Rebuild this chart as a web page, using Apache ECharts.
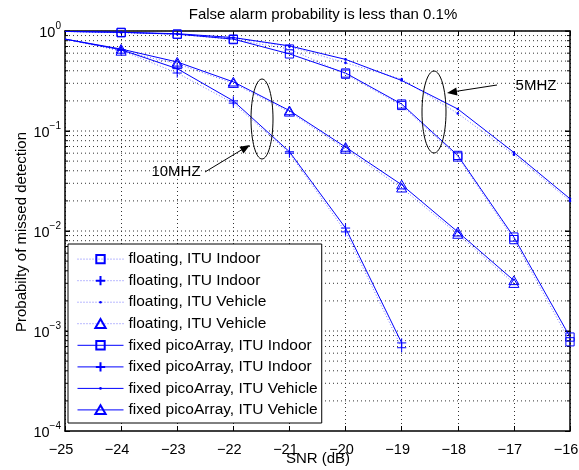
<!DOCTYPE html>
<html><head><meta charset="utf-8">
<script src="https://cdn.jsdelivr.net/npm/echarts@6/dist/echarts.min.js"></script>
<style>html,body{margin:0;padding:0;background:#fff}#c{width:579px;height:470px}</style>
</head><body><div id="c"></div>
<script>
const snr = [-25,-24,-23,-22,-21,-20,-19,-18,-17,-16];
// 5MHz, ITU Indoor (squares)
const floatIndoor5  = [0.99,0.96,0.93,0.82,0.66,0.37,0.18,0.055,0.0082,0.00078];
const fixedIndoor5  = [0.99,0.97,0.93,0.83,0.59,0.38,0.186,0.057,0.0087,0.00087];
// 10MHz, ITU Indoor (plus)
const floatIndoor10 = [0.83,0.64,0.38,0.19,0.06,0.0098,0.00068,null,null,null];
const fixedIndoor10 = [0.83,0.65,0.42,0.20,0.062,0.0107,0.00076,null,null,null];
// 5MHz, ITU Vehicle (dots)
const floatVeh5     = [0.99,0.97,0.93,0.85,0.70,0.48,0.33,0.15,0.058,0.020];
const fixedVeh5     = [0.99,0.97,0.94,0.86,0.71,0.52,0.32,0.166,0.061,0.021];
// 10MHz, ITU Vehicle (triangles)
const floatVeh10    = [0.83,0.63,0.47,0.30,0.155,0.066,0.027,0.0093,0.0030,null];
const fixedVeh10    = [0.83,0.66,0.49,0.31,0.16,0.069,0.029,0.0098,0.0032,null];
const legendNames = [
  'floating, ITU Indoor#1','floating, ITU Indoor#2','floating, ITU Vehicle#1','floating, ITU Vehicle#2',
  'fixed picoArray, ITU Indoor#1','fixed picoArray, ITU Indoor#2','fixed picoArray, ITU Vehicle#1','fixed picoArray, ITU Vehicle#2'
];
const xTicks = [-25,-24,-23,-22,-21,-20,-19,-18,-17,-16];
const xTitle = 'SNR (dB)';
const yTitle = 'Probabilty of missed detection';

const BLUE = '#0000ff';
const FONT = 'Liberation Sans';
const SYM = {
  square:  'path://M0,0 M12,12 M1.5,1.5 L10.5,1.5 L10.5,10.5 L1.5,10.5 Z',
  plus:    'path://M0,0 M12,12 M6,1 L6,11 M1,6 L11,6',
  dot:     'path://M0,0 M12,12 M6,4.6 A1.4,1.4 0 1 1 6,7.4 A1.4,1.4 0 1 1 6,4.6 Z',
  triangle:'path://M0,0 M12,12 M6,1 L11.5,10.5 L0.5,10.5 Z'
};

function mk(arr){
  return snr.map((x,i)=>{
    if(arr[i]==null) return null;
    if(i===0) return {value:[x,arr[i]], symbol:'none'};
    return [x,arr[i]];
  });
}
function series(name, arr, floating, kind){
  const filled = kind==='dot';
  return {
    name, type:'line', data: mk(arr), symbol:SYM[kind], symbolSize:11,
    showAllSymbol:true, connectNulls:false, z:3, animation:false,
    lineStyle:{color:BLUE, width:1, type: floating?[1,2]:'solid', opacity: floating?0.55:1},
    itemStyle:{color: filled?BLUE:'none', borderColor:BLUE, borderWidth: filled?0:1},
    emphasis:{disabled:true}
  };
}
const gridVals = [];
for(let e=-4;e<0;e++){ for(let m=1;m<=9;m++){ if(m===1 && e===-4) continue; gridVals.push(m*Math.pow(10,e)); } }
gridVals.push(1);

const chart = echarts.init(document.getElementById('c'), null, {renderer:'canvas'});
const option = {
  animation:false,
  backgroundColor:'#fff',
  textStyle:{fontFamily:FONT},
  title:{text:'False alarm probability is less than 0.1%', left:318, top:2, textAlign:'center',
    textStyle:{fontFamily:FONT, fontSize:15, fontWeight:'normal', color:'#000'}},
  grid:{left:65, right:9, top:31, bottom:39, show:false, containLabel:false, outerBoundsMode:'none'},
  xAxis:[{
    type:'value', min:-25, max:-16, interval:1,
    axisLine:{lineStyle:{color:'#000', width:1.5}},
    axisTick:{inside:true, length:5, lineStyle:{color:'#000'}},
    axisLabel:{color:'#000', fontSize:14.5, fontFamily:FONT, margin:11, padding:[0,8,0,0],
      formatter:v=> xTicks.indexOf(v)>=0 ? String(v).replace('-','\u2212') : ''},
    splitLine:{show:true, lineStyle:{color:'#333', type:[1,3], width:1}}
  },{
    type:'value', min:-25, max:-16, interval:1, position:'top',
    axisLine:{lineStyle:{color:'#000', width:1.5}},
    axisTick:{inside:true, length:5, lineStyle:{color:'#000'}},
    axisLabel:{show:false}, splitLine:{show:false}
  }],
  yAxis:[{
    type:'log', logBase:10, min:1e-4, max:1, splitNumber:4,
    axisLine:{lineStyle:{color:'#000', width:1.5}},
    axisTick:{inside:true, length:5, lineStyle:{color:'#000'}},
    axisLabel:{color:'#000', margin:4, fontFamily:FONT,
      formatter:v=>{ const e=Math.round(Math.log10(v)); return '{b|10}{s|'+(e===0?'0':'\u2212'+(-e))+'}'; },
      rich:{b:{fontSize:14.5, fontFamily:FONT, color:'#000', verticalAlign:'bottom'},
            s:{fontSize:10, fontFamily:FONT, color:'#000', verticalAlign:'top', padding:[0,0,9,0]}}},
    splitLine:{show:false}
  },{
    type:'log', logBase:10, min:1e-4, max:1, splitNumber:4, position:'right',
    axisLine:{lineStyle:{color:'#000', width:1.5}},
    axisTick:{inside:true, length:5, lineStyle:{color:'#000'}},
    axisLabel:{show:false}, splitLine:{show:false}
  }],
  legend:{
    orient:'vertical', left:68, top:244, padding:[7,4,5,9],
    itemWidth:46, itemHeight:14, itemGap:5.4,
    backgroundColor:'#fff', borderColor:'#000', borderWidth:1, borderRadius:0,
    lineStyle:{width:1},
    textStyle:{fontFamily:FONT, fontSize:15.5, color:'#000'},
    formatter:n=>n.split('#')[0],
    data: legendNames, z:10
  },
  series:[
    {type:'custom', xAxisIndex:0, yAxisIndex:0, silent:true, z:1, animation:false,
     data: gridVals.map(v=>[v]),
     renderItem:(params, api)=>{
       const v = api.value(0);
       const p0 = api.coord([-25, v]), p1 = api.coord([-16, v]);
       const major = Math.abs(Math.log10(v) - Math.round(Math.log10(v))) < 1e-9;
       const tl = major?5:3;
       return {type:'group', children:[
         {type:'line', shape:{x1:p0[0], y1:p0[1], x2:p1[0], y2:p1[1]}, style:{stroke:'#333', lineWidth:1, lineDash:[1,3]}},
         {type:'line', shape:{x1:p0[0], y1:p0[1], x2:p0[0]+tl, y2:p0[1]}, style:{stroke:'#000', lineWidth:1}},
         {type:'line', shape:{x1:p1[0], y1:p1[1], x2:p1[0]-tl, y2:p1[1]}, style:{stroke:'#000', lineWidth:1}}
       ]};
     }},
    series(legendNames[0], floatIndoor5, true, 'square'),
    series(legendNames[1], floatIndoor10, true, 'plus'),
    series(legendNames[2], floatVeh5, true, 'dot'),
    series(legendNames[3], floatVeh10, true, 'triangle'),
    series(legendNames[4], fixedIndoor5, false, 'square'),
    series(legendNames[5], fixedIndoor10, false, 'plus'),
    series(legendNames[6], fixedVeh5, false, 'dot'),
    series(legendNames[7], fixedVeh10, false, 'triangle')
  ],
  graphic:[
    {type:'text', x:318, y:459, style:{text:xTitle, font:'15px "Liberation Sans"', fill:'#000', align:'center', verticalAlign:'middle'}, z:20},
    {type:'text', x:22, y:232, rotation:Math.PI/2, style:{text:yTitle, font:'15px "Liberation Sans"', fill:'#000', align:'center', verticalAlign:'middle'}, z:20},
    {type:'ellipse', shape:{cx:262, cy:119, rx:11, ry:40}, style:{fill:'none', stroke:'#000', lineWidth:1}, z:20},
    {type:'ellipse', shape:{cx:434, cy:112, rx:12, ry:41}, style:{fill:'none', stroke:'#000', lineWidth:1}, z:20},
    {type:'line', shape:{x1:205, y1:172, x2:243, y2:149}, style:{stroke:'#000', lineWidth:1}, z:20},
    {type:'polygon', shape:{points:[[250,145],[243.5,153.5],[239.4,146.7]]}, style:{fill:'#000'}, z:20},
    {type:'line', shape:{x1:497, y1:85, x2:455, y2:91.5}, style:{stroke:'#000', lineWidth:1}, z:20},
    {type:'polygon', shape:{points:[[447,93],[457.5,95.4],[456.3,87.5]]}, style:{fill:'#000'}, z:20},
    {type:'text', x:176, y:172, style:{text:'10MHZ', font:'15px "Liberation Sans"', fill:'#000', align:'center', verticalAlign:'middle'}, z:20},
    {type:'text', x:536, y:86, style:{text:'5MHZ', font:'15px "Liberation Sans"', fill:'#000', align:'center', verticalAlign:'middle'}, z:20}
  ]
};
chart.setOption(option);
</script></body></html>
